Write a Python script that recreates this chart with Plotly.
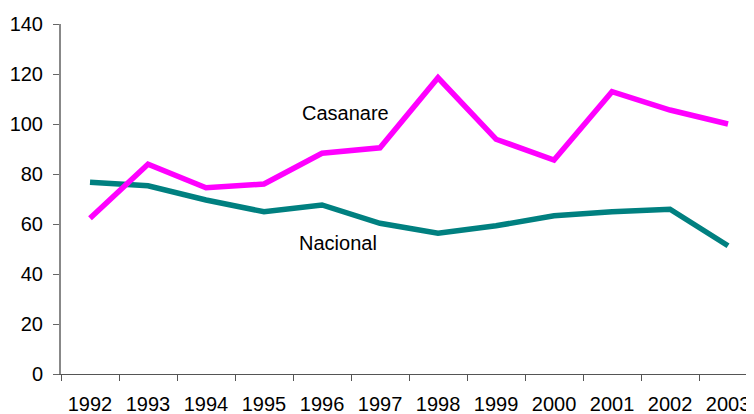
import plotly.graph_objects as go

years = ["1992", "1993", "1994", "1995", "1996", "1997", "1998", "1999", "2000", "2001", "2002", "2003"]
casanare = [62.3, 83.9, 74.5, 76.0, 88.3, 90.5, 118.5, 93.9, 85.6, 112.9, 105.6, 100.0]
nacional = [76.7, 75.3, 69.6, 64.9, 67.6, 60.3, 56.3, 59.3, 63.3, 64.9, 65.9, 51.3]
y_ticks = [0, 20, 40, 60, 80, 100, 120, 140]

FONT = "Arial, Liberation Sans, sans-serif"

fig = go.Figure()
fig.add_trace(go.Scatter(x=years, y=nacional, mode="lines", name="Nacional",
                         line=dict(color="#008080", width=5.5)))
fig.add_trace(go.Scatter(x=years, y=casanare, mode="lines", name="Casanare",
                         line=dict(color="#FF00FF", width=5.5)))

fig.add_annotation(x=4.4, y=104.4, text="Casanare", showarrow=False,
                   font=dict(family=FONT, size=20, color="#000000"))
fig.add_annotation(x=4.28, y=52.5, text="Nacional", showarrow=False,
                   font=dict(family=FONT, size=20, color="#000000"))

# the page body adds an 8px margin, so the figure is sized/offset to compensate
fig.update_layout(
    width=746, height=406,
    margin=dict(l=53, r=0, t=16, b=40, autoexpand=False),
    paper_bgcolor="white", plot_bgcolor="white",
    showlegend=False,
    font=dict(family=FONT, size=20, color="#000000"),
    xaxis=dict(type="category", range=[-0.5, 11.448], tickson="boundaries",
               automargin=False, ticklabelstandoff=12,
               ticks="outside", ticklen=6, tickcolor="#555555", tickwidth=1,
               showline=True, linecolor="#555555", linewidth=1,
               showgrid=False, zeroline=False,
               tickfont=dict(family=FONT, size=20, color="#000000")),
    yaxis=dict(range=[0, 140], tickvals=y_ticks, ticks="outside", ticklen=6,
               automargin=False, ticklabelstandoff=6,
               tickcolor="#666666", tickwidth=1,
               showline=True, linecolor="#888888", linewidth=2,
               showgrid=False, zeroline=False,
               tickfont=dict(family=FONT, size=20, color="#000000")),
)

fig.write_html("out.html")
